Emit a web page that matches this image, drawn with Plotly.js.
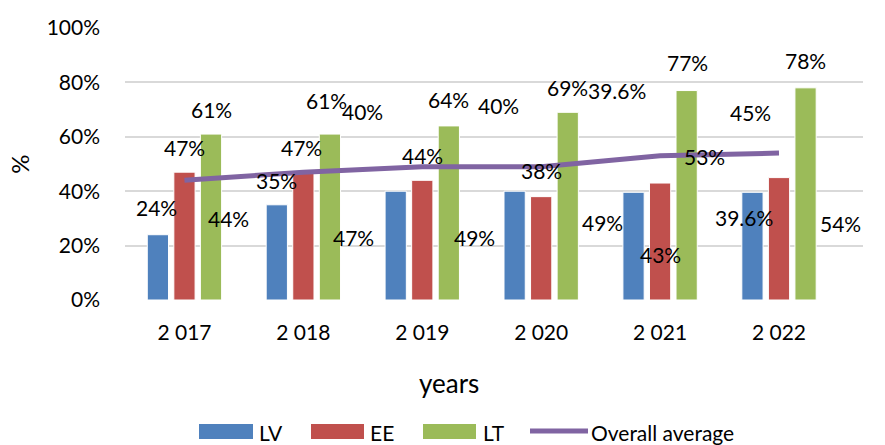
<!DOCTYPE html>
<html>
<head>
<meta charset="utf-8">
<script src="https://cdn.plot.ly/plotly-3.0.1.min.js"></script>
<style>html,body{margin:0;padding:0;background:#fff;}#chart{width:885px;height:445px;}</style>
</head>
<body>
<div id="chart"></div>
<script>
// ---- data ----
const years = ['2 017', '2 018', '2 019', '2 020', '2 021', '2 022'];
const lv = [24, 35, 40, 40, 39.6, 39.6];
const ee = [47, 47, 44, 38, 43, 45];
const lt = [61, 61, 64, 69, 77, 78];
const avg = [44, 47, 49, 49, 53, 54];
const seriesNames = ['LV', 'EE', 'LT', 'Overall average'];
const xTitle = 'years';
const yTitle = '%';

// ---- styling / label placement (pixel offsets from each value) ----
const colors = ['#4f81bd', '#c0504d', '#9bbb59', '#8064a2'];
const FONT = 'Lato, "DejaVu Sans", sans-serif';
const labelShift = [
  [[-27.5, 27], [-26.5, 24], [-59.5, 80], [-42.5, 86], [-43.5, 102], [-35.5, -25]],
  [[0, 25], [-1.5, 25], [0, 25], [0, 26], [0, -71], [-28.5, 65]],
  [[27, 25], [23.5, 34], [26.5, 26], [26.5, 25], [27.5, 28], [26.5, 27]],
  [[44.5, -38], [50.5, -65], [52.5, -71], [61.5, -56], [44.5, -1], [61.5, -70]]
];

const M = {l: 125, r: 22, t: 28, b: 145};
const W = 885, H = 445;
const pw = W - M.l - M.r, ph = H - M.t - M.b;
const px = x => (x - M.l) / pw;
const py = y => (H - M.b - y) / ph;

const values = [lv, ee, lt];
const traces = values.map((v, i) => ({
  type: 'bar', name: seriesNames[i], x: years, y: v,
  marker: {color: colors[i], line: {color: '#ffffff', width: 1}},
  hoverinfo: 'x+y'
}));
traces.push({
  type: 'scatter', mode: 'lines', name: seriesNames[3], x: years, y: avg,
  line: {color: colors[3], width: 5}
});

const annotations = [];
[lv, ee, lt, avg].forEach((arr, s) => {
  arr.forEach((v, i) => {
    annotations.push({
      x: years[i], y: v, xref: 'x', yref: 'y', text: v + '%', showarrow: false,
      xshift: labelShift[s][i][0], yshift: labelShift[s][i][1],
      xanchor: 'center', yanchor: 'middle',
      font: {family: FONT, size: 21, color: '#000'}
    });
  });
});

// x-axis title (placed off-centre like the source)
annotations.push({xref: 'paper', yref: 'paper', x: px(449), y: py(383),
  xanchor: 'center', yanchor: 'middle', showarrow: false, text: xTitle,
  font: {family: FONT, size: 26, color: '#000'}});

// custom legend (large swatches like the source)
const legendItems = [
  {sx: 199, ex: 253, tx: 257},
  {sx: 311, ex: 364, tx: 368},
  {sx: 423, ex: 476, tx: 481},
  {sx: 530, ex: 588, tx: 589}
];
const LEG_Y = 431;
const shapes = [];
legendItems.forEach((it, i) => {
  if (i < 3) {
    shapes.push({type: 'rect', xref: 'paper', yref: 'paper',
      x0: px(it.sx), x1: px(it.ex), y0: py(LEG_Y - 7), y1: py(LEG_Y + 8),
      fillcolor: colors[i], line: {width: 0}});
  } else {
    shapes.push({type: 'line', xref: 'paper', yref: 'paper',
      x0: px(it.sx), x1: px(it.ex), y0: py(LEG_Y), y1: py(LEG_Y),
      line: {color: colors[i], width: 5}});
  }
  annotations.push({xref: 'paper', yref: 'paper', x: px(it.tx), y: py(LEG_Y + 1),
    xanchor: 'left', yanchor: 'middle', showarrow: false, text: seriesNames[i],
    font: {family: FONT, size: 21, color: '#000'}});
});

const layout = {
  width: W, height: H,
  margin: M,
  paper_bgcolor: '#ffffff', plot_bgcolor: '#ffffff',
  showlegend: false,
  barmode: 'group', bargap: 0.33, bargroupgap: 0.2,
  font: {family: FONT, color: '#000'},
  xaxis: {
    type: 'category', categoryarray: years,
    tickfont: {family: FONT, size: 21, color: '#000'},
    ticklabelstandoff: 18,
    showgrid: false, zeroline: false, showline: false, fixedrange: true,
    automargin: false
  },
  yaxis: {
    range: [0, 100], dtick: 20, ticksuffix: '%',
    tickfont: {family: FONT, size: 21, color: '#000'},
    ticklabelstandoff: 24,
    showgrid: true, gridcolor: '#d9d9d9', gridwidth: 2,
    zeroline: false, showline: false, fixedrange: true,
    title: {text: yTitle, font: {family: FONT, size: 24, color: '#000'}, standoff: 10},
    automargin: false
  },
  annotations: annotations,
  shapes: shapes
};

Plotly.newPlot('chart', traces, layout, {displayModeBar: false, staticPlot: true});
</script>
</body>
</html>
